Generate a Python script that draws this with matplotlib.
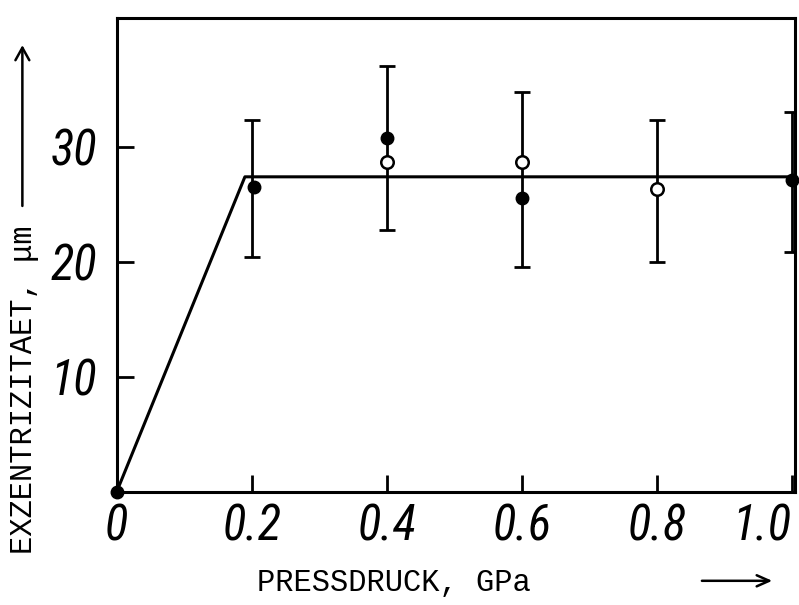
import matplotlib
matplotlib.use("Agg")
import matplotlib.pyplot as plt

# fitted curve (ramp then plateau)
line_x = [0.0, 0.19, 1.0]
line_y = [0.0, 27.4, 27.4]

# filled points
full_x = [0.0, 0.203, 0.4, 0.6, 1.0]
full_y = [0.0, 26.5, 30.8, 25.6, 27.1]

# open points
open_x = [0.4, 0.6, 0.8]
open_y = [28.7, 28.7, 26.3]

# error bars (x, lower, upper)
err_x = [0.2, 0.4, 0.6, 0.8, 1.0]
err_lo = [20.4, 22.8, 19.6, 20.0, 20.9]
err_hi = [32.3, 37.0, 34.8, 32.3, 33.0]

xticks = [0, 0.2, 0.4, 0.6, 0.8, 1.0]
xticklabels = ["0", "0.2", "0.4", "0.6", "0.8", "1.0"]
yticks = [10, 20, 30]
yticklabels = ["10", "20", "30"]

fig = plt.figure(figsize=(7.99, 6.05), dpi=100)
ax = fig.add_axes([0.146, 0.187, 0.849, 0.783])

ax.plot(line_x, line_y, color="black", lw=2.2, zorder=2)
mid = [(lo + hi) / 2 for lo, hi in zip(err_lo, err_hi)]
half = [(hi - lo) / 2 for lo, hi in zip(err_lo, err_hi)]
ax.errorbar(err_x, mid, yerr=half, fmt="none", ecolor="black",
            elinewidth=2.0, capsize=6, capthick=2.0, zorder=2)
ax.plot(full_x, full_y, "o", color="black", ms=9, zorder=4, clip_on=False)
ax.plot(open_x, open_y, "o", mfc="white", mec="black", mew=1.8, ms=9, zorder=4)

ax.set_xlim(0, 1.005)
ax.set_ylim(0, 41.2)
for s in ax.spines.values():
    s.set_linewidth(2.2)

tick_font = dict(family=["Roboto Condensed", "Roboto", "DejaVu Sans"],
                 style="italic", weight="normal", size=35)
ax.set_xticks(xticks)
ax.set_xticklabels(xticklabels, fontdict=tick_font)
ax.set_yticks(yticks)
ax.set_yticklabels(yticklabels, fontdict=tick_font)
ax.get_xticklabels()[-1].set_horizontalalignment("right")
ax.tick_params(direction="in", length=12, width=2)
ax.tick_params(axis="x", pad=8)
ax.tick_params(axis="y", pad=14)

mono = dict(family="Liberation Mono", size=22)
fig.text(0.493, 0.036, "PRESSDRUCK, GPa", ha="center", va="center", **mono)
fig.text(0.03, 0.355, "EXZENTRIZITAET, μm", rotation=90,
         ha="center", va="center", **mono)

# hand-drawn arrows
fig.add_artist(matplotlib.patches.FancyArrowPatch(
    (0.875, 0.04), (0.97, 0.04), transform=fig.transFigure,
    arrowstyle="->,head_length=9,head_width=4", color="black", lw=1.8))
fig.add_artist(matplotlib.patches.FancyArrowPatch(
    (0.028, 0.655), (0.028, 0.93), transform=fig.transFigure,
    arrowstyle="->,head_length=9,head_width=5", color="black", lw=1.8))

fig.savefig("out.png", dpi=100)
